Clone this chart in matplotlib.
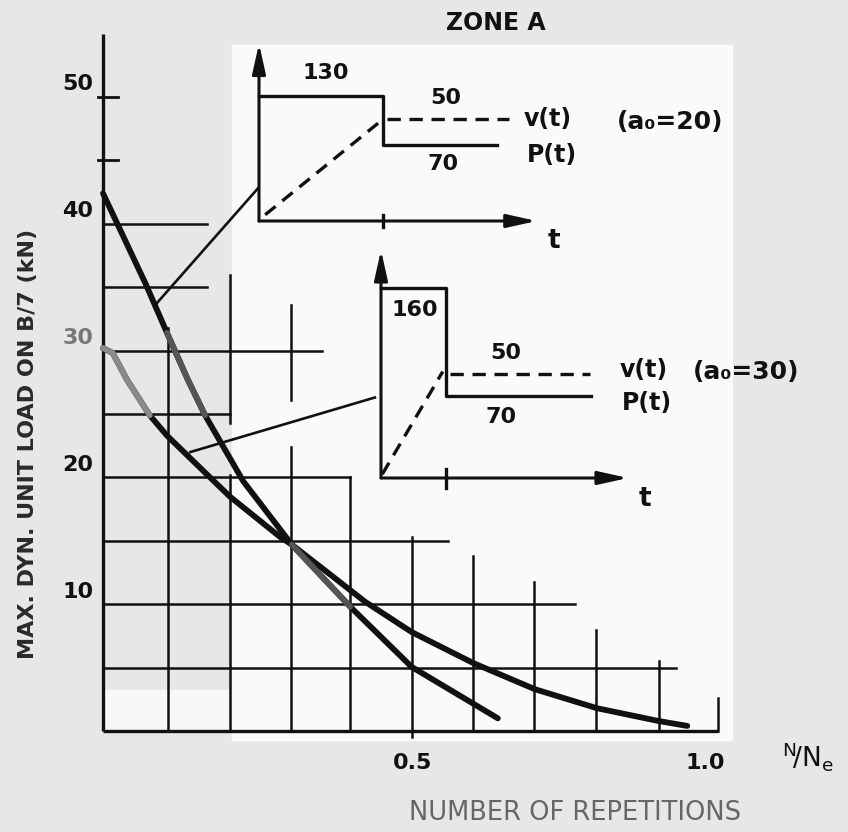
import matplotlib.pyplot as plt
from matplotlib.patches import Rectangle

plt.rcParams['font.family'] = 'DejaVu Sans'
plt.rcParams['font.weight'] = 'bold'
plt.rcParams['mathtext.default'] = 'regular'

# --- curves (x = N/Ne, y = load in kN) ---
steep_x = [0.0, 0.069, 0.104, 0.138, 0.166, 0.228, 0.307, 0.402, 0.502, 0.642]
steep_y = [42.4, 35.3, 31.4, 27.7, 24.9, 19.7, 14.7, 9.8, 5.05, 1.0]
flat_x = [0.0, 0.016, 0.039, 0.076, 0.104, 0.174, 0.206, 0.288, 0.307,
          0.426, 0.502, 0.602, 0.702, 0.803, 0.902, 0.95]
flat_y = [30.2, 29.8, 27.7, 24.9, 23.3, 20.0, 18.5, 15.3, 14.7,
          10.2, 7.8, 5.36, 3.3, 1.8, 0.8, 0.4]

y_tick_labels = [50, 40, 30, 20, 10]
y_small_ticks = [50, 45]
x_tick_labels = ['0.5', '1.0']
x_tick_pos = [0.504, 0.98]

# hand-drawn grid: horizontal lines (y, x_end) and vertical pieces (x, [(y0, y1), ...])
hgrid_y = [40, 35, 30, 25, 20, 15, 10, 5]
hgrid_end = [0.169, 0.169, 0.356, 0.207, 0.402, 0.561, 0.767, 0.932]
vgrid_x = [0.106, 0.206, 0.306, 0.402, 0.502, 0.602, 0.701, 0.802, 0.904, 1.0]
vgrid_pieces = [[(0, 31.8)],
                [(0, 20.2), (24.3, 36.0)],
                [(0, 22.4), (26.1, 33.6)],
                [(0, 20.0)],
                [(-0.5, 15.3)],
                [(0, 13.8)],
                [(0, 11.75)],
                [(0, 8.0)],
                [(0, 5.5)],
                [(0, 2.6)]]

# pointer lines from the curves to the two sketches
pointer_x = [(0.085, 0.252), (0.142, 0.442)]
pointer_y = [(33.6, 42.8), (22.0, 26.3)]

# sketch 1 (a0 = 20), schematic units: switch time = 1, first P level = 1
s1_p_t = [0, 1, 1, 1.92]
s1_p = [1.0, 1.0, 0.61, 0.61]
s1_vr_t, s1_vr = [0.05, 0.97], [0.05, 0.79]
s1_vh_t, s1_vh = [1.03, 2.02], [0.82, 0.82]
s1_labels = ['130', '50', '70']

# sketch 2 (a0 = 30)
s2_p_t = [0, 1, 1, 3.23]
s2_p = [1.0, 1.0, 0.43, 0.43]
s2_vr_t, s2_vr = [0.02, 0.95], [0.02, 0.56]
s2_vh_t, s2_vh = [1.06, 3.22], [0.55, 0.55]
s2_labels = ['160', '50', '70']

W, H = 848, 832
X0, XS = 103, 615          # pixel of x=0 and pixels per unit
Y0, YS = 731, 634 / 50     # pixel of y=0 and pixels per kN

fig = plt.figure(figsize=(W / 100, H / 100), dpi=100)
fig.patch.set_facecolor('#e7e7e7')


def fig_box(l, t, r, b):
    return [l / W, (H - b) / H, (r - l) / W, (b - t) / H]


# paper: scan is grey with a whiter middle
fig.patches.append(Rectangle((232 / W, (H - 740) / H), 500 / W, 695 / H,
                             transform=fig.transFigure, color='#fafafa', zorder=-5))
fig.patches.append(Rectangle((105 / W, (H - 730) / H), 127 / W, 40 / H,
                             transform=fig.transFigure, color='#f7f7f7', zorder=-5))

ax = fig.add_axes([0, 0, 1, 1])
ax.set_xlim(-X0 / XS, (W - X0) / XS)
ax.set_ylim(-(H - Y0) / YS, Y0 / YS)
ax.axis('off')

ink = '#111111'

# axes
ax.plot([0, 0], [0, 55.0], color=ink, lw=2.4, solid_capstyle='butt')
ax.plot([0, 1.0], [0, 0], color=ink, lw=2.4, solid_capstyle='butt')
for yt in y_small_ticks:
    ax.plot([-0.008, 0.024], [yt, yt], color=ink, lw=2.0)

# grid
for yv, xe in zip(hgrid_y, hgrid_end):
    ax.plot([0, xe], [yv, yv], color=ink, lw=1.8)
for xv, pieces in zip(vgrid_x, vgrid_pieces):
    for y0, y1 in pieces:
        ax.plot([xv, xv], [y0, y1], color=ink, lw=1.8)

# curves
curve_kw = dict(lw=4.2, solid_capstyle='round', solid_joinstyle='round')
ax.plot(steep_x, steep_y, color=ink, zorder=5, **curve_kw)
ax.plot(flat_x, flat_y, color=ink, zorder=5, **curve_kw)
# parts that came out grey in the scan
ax.plot(flat_x[:4], flat_y[:4], color='#8a8a8a', zorder=6, **curve_kw)
ax.plot(steep_x[2:5], steep_y[2:5], color='#555555', zorder=6, **curve_kw)
ax.plot(steep_x[6:8], steep_y[6:8], color='#555555', zorder=6, **curve_kw)

for px_, py_ in zip(pointer_x, pointer_y):
    ax.plot(px_, py_, color=ink, lw=1.9)

# tick labels
for v in y_tick_labels:
    ax.text(-0.041, v + 1.0, str(v), ha='center', va='center', fontsize=16,
            color='#777777' if v == 30 else ink)
for lab, xp in zip(x_tick_labels, x_tick_pos):
    ax.text(xp, -2.5, lab, ha='center', va='center', fontsize=16, color=ink)

ax.text(1.146, -2.0, r'$^{N}\!/N_{e}$', ha='center', va='center', fontsize=19,
        fontweight='normal', color=ink)
ax.text(0.767, -6.5, 'NUMBER OF REPETITIONS', ha='center', va='center', fontsize=18.5,
        fontweight='normal', color='#666666')
ax.text(-0.122, 22.6, 'MAX. DYN. UNIT LOAD ON B/7 (kN)', rotation=90, ha='center',
        va='center', fontsize=16, fontweight='bold', color='#2a2a2a')
ax.text(0.639, 55.8, 'ZONE A', ha='center', va='center', fontsize=17, color=ink)


def sketch(box, origin, unit_x, unit_y):
    l, t, r, b = box
    a = fig.add_axes(fig_box(l, t, r, b))
    a.set_xlim((l - origin[0]) / unit_x, (r - origin[0]) / unit_x)
    a.set_ylim((origin[1] - b) / unit_y, (origin[1] - t) / unit_y)
    a.axis('off')
    a.patch.set_alpha(0)
    return a


def draw_sketch(a, x_end, y_end, p_t, p, vr_t, vr, vh_t, vh):
    arrow = dict(arrowstyle='-|>,head_length=0.9,head_width=0.2', color=ink, lw=2.2,
                 shrinkA=0, shrinkB=0, mutation_scale=20)
    a.annotate('', xy=(0, y_end), xytext=(0, 0), arrowprops=arrow)
    a.annotate('', xy=(x_end, 0), xytext=(0, 0), arrowprops=arrow)
    a.plot([1, 1], [-0.05, 0.05], color=ink, lw=2.4)
    a.plot(p_t, p, color=ink, lw=2.4)
    a.plot(vr_t, vr, color=ink, lw=2.4, dashes=(4, 2.6))
    a.plot(vh_t, vh, color=ink, lw=2.4, dashes=(4, 2.6))


a1 = sketch((245, 30, 565, 235), (259, 221), 124, 125)
draw_sketch(a1, 2.24, 1.42, s1_p_t, s1_p, s1_vr_t, s1_vr, s1_vh_t, s1_vh)
for lab, (tx, ty) in zip(s1_labels, [(0.54, 1.184), (1.508, 0.984), (1.484, 0.456)]):
    a1.text(tx, ty, lab, ha='center', va='center', fontsize=16, color=ink)
a1.text(2.33, 0.816, 'v(t)', ha='center', va='center', fontsize=17, color=ink)
a1.text(2.363, 0.528, 'P(t)', ha='center', va='center', fontsize=17, color=ink)
a1.text(3.315, 0.792, '(a₀=20)', ha='center', va='center', fontsize=18, color=ink)
a1.text(2.379, -0.16, 't', ha='center', va='center', fontsize=19, color=ink)

a2 = sketch((370, 240, 660, 495), (381, 478), 65, 190)
draw_sketch(a2, 3.8, 1.2, s2_p_t, s2_p, s2_vr_t, s2_vr, s2_vh_t, s2_vh)
for lab, (tx, ty) in zip(s2_labels, [(0.523, 0.884), (1.923, 0.658), (1.846, 0.321)]):
    a2.text(tx, ty, lab, ha='center', va='center', fontsize=16, color=ink)
a2.text(4.046, 0.568, 'v(t)', ha='center', va='center', fontsize=17, color=ink)
a2.text(4.092, 0.395, 'P(t)', ha='center', va='center', fontsize=17, color=ink)
a2.text(5.615, 0.558, '(a₀=30)', ha='center', va='center', fontsize=18, color=ink)
a2.text(4.06, -0.11, 't', ha='center', va='center', fontsize=19, color=ink)

fig.savefig('out.png', dpi=100, facecolor=fig.get_facecolor())
